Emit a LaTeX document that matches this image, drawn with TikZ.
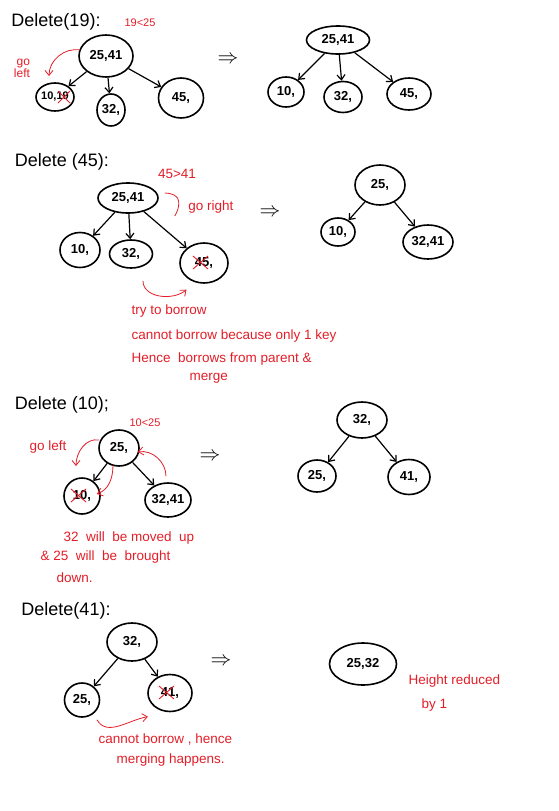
\documentclass[tikz,border=0pt]{standalone}
\usepackage{fontspec}
\setmainfont{Liberation Sans}
\usetikzlibrary{arrows.meta}
\usetikzlibrary{shapes.geometric}
\usetikzlibrary{calc}
\definecolor{ink}{RGB}{226,30,40}

\begin{document}
\begin{tikzpicture}[x=1pt,y=-1pt,>/.tip={Straight Barb[length=5pt,width=8pt]},
	key/.style={draw,ellipse,line width=1.6pt,inner sep=0pt,font=\bfseries\fontsize{13}{14}\selectfont},
	head/.style={font=\fontsize{18}{19}\selectfont},
	note/.style={text=ink,font=\fontsize{13.5}{14}\selectfont},
	small/.style={text=ink,font=\fontsize{11}{12}\selectfont},
	link/.style={->,line width=1.2pt},
	hint/.style={->,ink,line width=0.8pt},
	strike/.style={ink,line width=0.9pt}]
	\useasboundingbox (0,0) rectangle (559,811);

	% Delete(19)
	\draw (56,22) node (h1) [head] {Delete(19):};
	\draw (140,23) node (c1) [small] {19<25};
	\draw (106,56) node (a1) [key,minimum width=54pt,minimum height=42pt] {25,41};
	\draw (55,97) node (a1l) [key,minimum width=38pt,minimum height=28pt,inner xsep=-4pt,font=\bfseries\fontsize{11}{12}\selectfont] {10,19};
	\draw (111,110) node (a1m) [key,minimum width=28pt,minimum height=32pt] {32,};
	\draw (181,98) node (a1r) [key,minimum width=45pt,minimum height=40pt] {45,};
	\draw[link] (a1) -- (a1l);
	\draw[link] (a1) -- (a1m);
	\draw[link] (a1) -- (a1r);
	\draw[strike] ($(a1l)+(3,-6)$) -- ($(a1l)+(15,6)$);
	\draw[strike] ($(a1l)+(3,6)$) -- ($(a1l)+(15,-6)$);
	\draw (22,68) node (g1) [note,align=right,font=\fontsize{12}{12}\selectfont] {go\\left};
	\coordinate (g1e) at (49,76);
	\draw[hint] ($(a1.west)+(2,-6)$) to[out=170,in=90] (g1e);
	\draw (228,60) node (t1) [font=\fontsize{20}{20}\selectfont] {$\Rightarrow$};

	\draw (338,40) node (b1) [key,minimum width=63pt,minimum height=28pt] {25,41};
	\draw (286,92) node (b1l) [key,minimum width=36pt,minimum height=30pt] {10,};
	\draw (343,97) node (b1m) [key,minimum width=38pt,minimum height=31pt] {32,};
	\draw (409,94) node (b1r) [key,minimum width=44pt,minimum height=32pt] {45,};
	\draw[link] (b1) -- (b1l);
	\draw[link] (b1) -- (b1m);
	\draw[link] (b1) -- (b1r);

	% Delete(45)
	\draw (62,162) node (h2) [head] {Delete (45):};
	\draw (177,174) node (c2) [note] {45>41};
	\draw (128,198) node (a2) [key,minimum width=60pt,minimum height=30pt] {25,41};
	\draw (80,250) node (a2l) [key,minimum width=40pt,minimum height=35pt] {10,};
	\draw (131,254) node (a2m) [key,minimum width=43pt,minimum height=28pt] {32,};
	\draw (204,263) node (a2r) [key,minimum width=48pt,minimum height=40pt] {45,};
	\draw[link] (a2) -- (a2l);
	\draw[link] (a2) -- (a2m);
	\draw[link] (a2) -- (a2r);
	\draw[strike] ($(a2r)+(-11,-7)$) -- ($(a2r)+(4,6)$);
	\draw[strike] ($(a2r)+(-11,6)$) -- ($(a2r)+(4,-7)$);
	\draw[ink,line width=0.8pt] ($(a2.east)+(6,-5)$) to[out=0,in=90] ($(a2.east)+(20,4)$) to[out=-90,in=60] ($(a2.east)+(16,18)$);
	\draw (211,207) node (g2) [note] {go right};
	\draw (270,213) node (t2) [font=\fontsize{20}{20}\selectfont] {$\Rightarrow$};
	\draw[hint] ($(a2m.south)+(12,12)$) to[out=-90,in=-140] ($(a2r.south west)+(0,12)$);
	\draw (128,311) node (n2a) [note,anchor=west] {try to borrow};
	\draw (128,336) node (n2b) [note,anchor=west] {cannot borrow because only 1 key};
	\draw (128,359) node (n2c) [note,anchor=west] {Hence \ borrows from parent \&};
	\draw (186,378) node (n2d) [note,anchor=west] {merge};

	\draw (380,185) node (b2) [key,minimum width=50pt,minimum height=40pt] {25,};
	\draw (338,232) node (b2l) [key,minimum width=34pt,minimum height=28pt] {10,};
	\draw (428,242) node (b2r) [key,minimum width=50pt,minimum height=34pt] {32,41};
	\draw[link] (b2) -- (b2l);
	\draw[link] (b2) -- (b2r);

	% Delete(10)
	\draw (62,405) node (h3) [head] {Delete (10);};
	\draw (145,423) node (c3) [small] {10<25};
	\draw (119,448) node (a3) [key,minimum width=40pt,minimum height=36pt] {25,};
	\draw (82,496) node (a3l) [key,minimum width=36pt,minimum height=36pt] {10,};
	\draw (168,500) node (a3r) [key,minimum width=46pt,minimum height=34pt] {32,41};
	\draw[link] (a3) -- (a3l);
	\draw[link] (a3) -- (a3r);
	\draw[strike] ($(a3l)+(-11,-7)$) -- ($(a3l)+(4,6)$);
	\draw[strike] ($(a3l)+(-11,6)$) -- ($(a3l)+(4,-7)$);
	\draw (48,447) node (g3) [note] {go left};
	\coordinate (g3e) at (76,466);
	\draw[hint] ($(a3.west)+(1,-8)$) to[out=170,in=90] (g3e);
	\draw[hint] ($(a3.south)+(-6,-2)$) to[out=-90,in=20] ($(a3l.east)+(-4,-2)$);
	\draw[hint] ($(a3r.north)+(-2,-6)$) to[out=90,in=10] ($(a3.east)+(-2,4)$);
	\draw (210,457) node (t3) [font=\fontsize{20}{20}\selectfont] {$\Rightarrow$};
	\draw (60,538) node (n3a) [note,anchor=west] {32 \ will \ be moved \ up};
	\draw (37,557) node (n3b) [note,anchor=west] {\& 25 \ will \ be \ brought};
	\draw (53,578) node (n3c) [note,anchor=west] {down.};

	\draw (362,420) node (b3) [key,minimum width=50pt,minimum height=36pt] {32,};
	\draw (317,476) node (b3l) [key,minimum width=38pt,minimum height=32pt] {25,};
	\draw (409,477) node (b3r) [key,minimum width=42pt,minimum height=35pt] {41,};
	\draw[link] (b3) -- (b3l);
	\draw[link] (b3) -- (b3r);

	% Delete(41)
	\draw (66,611) node (h4) [head] {Delete(41):};
	\draw (132,642) node (a4) [key,minimum width=50pt,minimum height=38pt] {32,};
	\draw (82,700) node (a4l) [key,minimum width=35pt,minimum height=34pt] {25,};
	\draw (170,693) node (a4r) [key,minimum width=44pt,minimum height=37pt] {41,};
	\draw[link] (a4) -- (a4l);
	\draw[link] (a4) -- (a4r);
	\draw[strike] ($(a4r)+(-11,-7)$) -- ($(a4r)+(4,6)$);
	\draw[strike] ($(a4r)+(-11,6)$) -- ($(a4r)+(4,-7)$);
	\draw[hint] ($(a4l.south)+(15,2)$) to[out=-60,in=-170] ($(a4r.south west)+(-6,10)$);
	\draw (221,662) node (t4) [font=\fontsize{20}{20}\selectfont] {$\Rightarrow$};
	\draw (95,739) node (n4a) [note,anchor=west] {cannot borrow , hence};
	\draw (113,760) node (n4b) [note,anchor=west] {merging happens.};

	\draw (363,664) node (b4) [key,minimum width=67pt,minimum height=42pt] {25,32};
	\draw (405,681) node (n4c) [note,anchor=west] {Height reduced};
	\draw (418,705) node (n4d) [note,anchor=west] {by 1};
\end{tikzpicture}
\end{document}
